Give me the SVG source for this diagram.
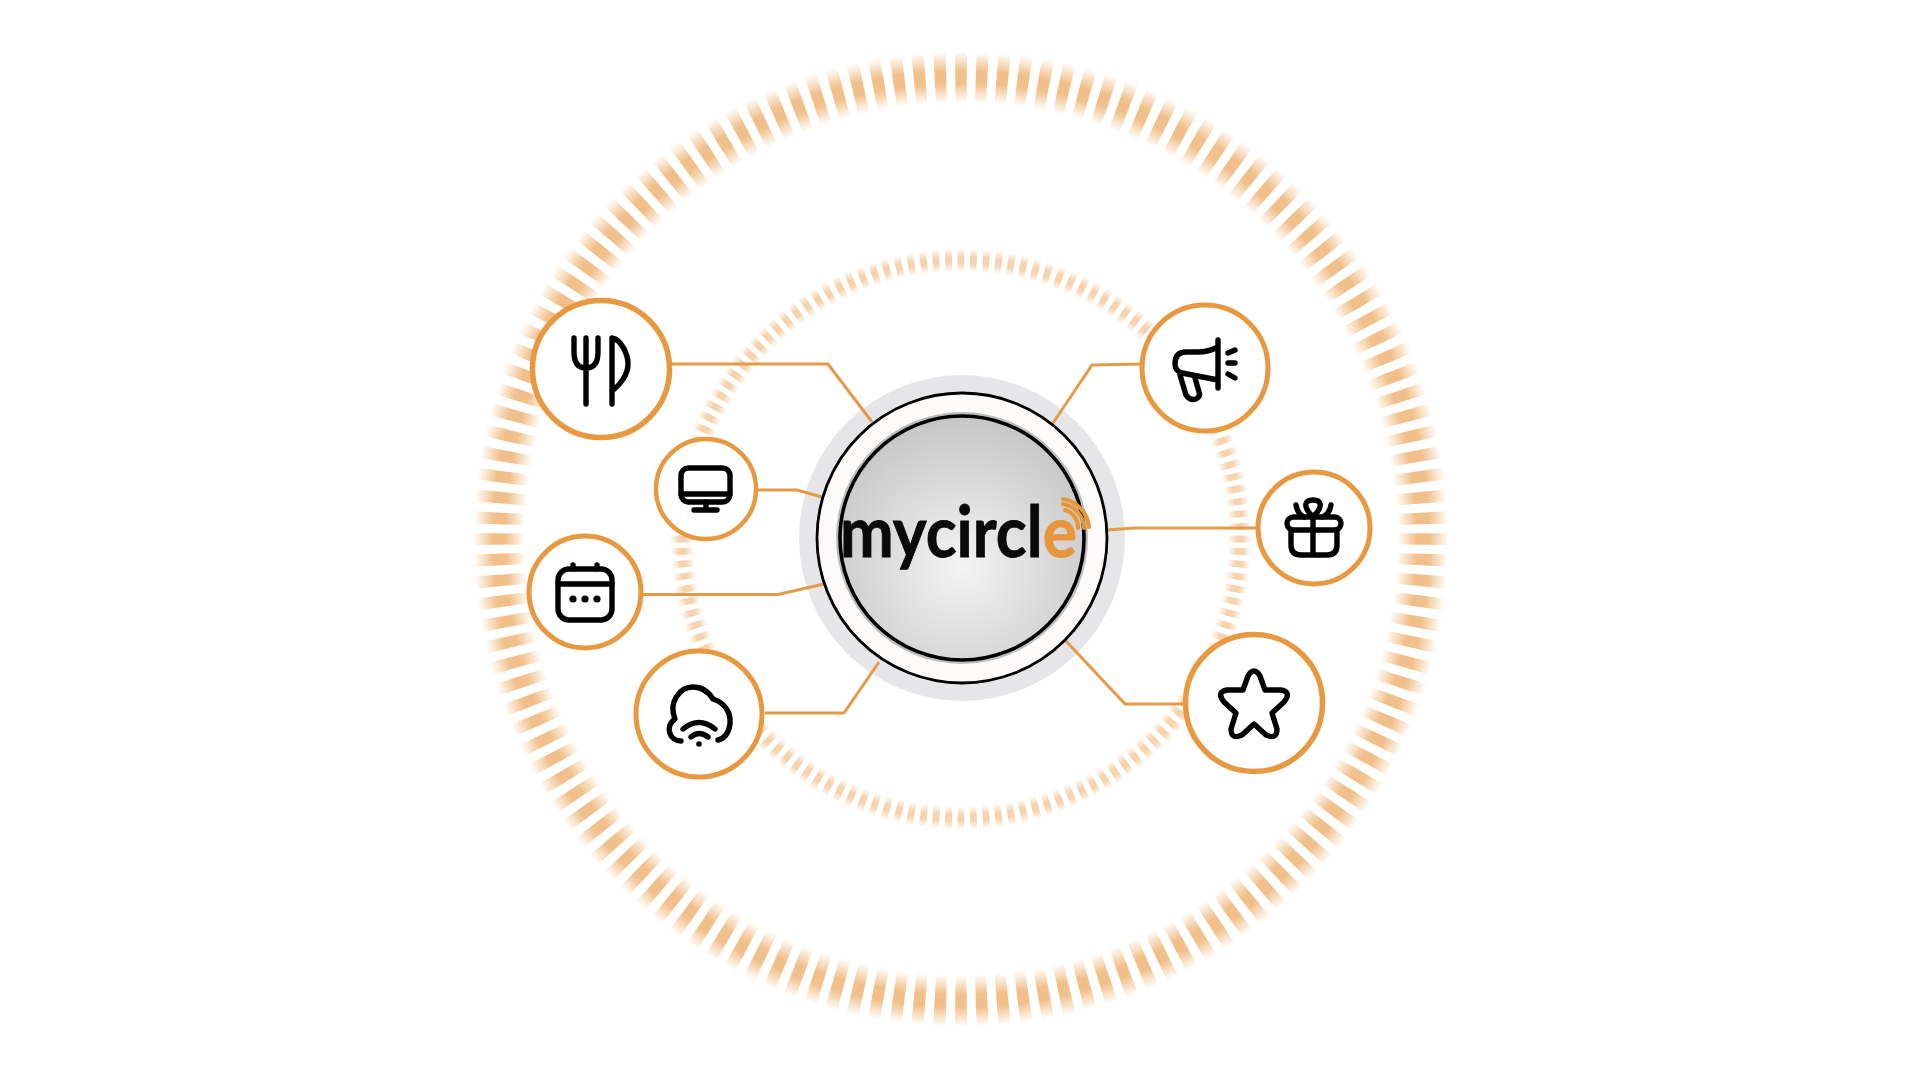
<svg xmlns="http://www.w3.org/2000/svg" width="1920" height="1080" viewBox="0 0 1920 1080">
<style>
.node{fill:#fff;stroke:#e8983f}
.ico{fill:none;stroke:#000;stroke-width:5.4;stroke-linecap:round;stroke-linejoin:round}
.wire{fill:none;stroke:#e59a48;stroke-width:3;stroke-linejoin:miter}
.sig{fill:none;stroke:#e8963c;stroke-width:4;stroke-linecap:round}
.logo{font-family:Lato,"Open Sans","Liberation Sans",sans-serif;font-weight:700;font-size:71px;fill:#0a0a0a;stroke:#0a0a0a;stroke-width:.8}
.logo tspan{fill:#e8963c;stroke:#e8963c}
</style>
<defs>
<radialGradient id="g1" gradientUnits="userSpaceOnUse" cx="961" cy="539" r="490">
<stop offset=".89" stop-color="#e8963c" stop-opacity="0"/>
<stop offset=".93" stop-color="#e8963c" stop-opacity=".6"/>
<stop offset=".955" stop-color="#e8963c" stop-opacity=".6"/>
<stop offset=".995" stop-color="#e8963c" stop-opacity="0"/>
</radialGradient>
<radialGradient id="g2" gradientUnits="userSpaceOnUse" cx="961" cy="539" r="292">
<stop offset=".915" stop-color="#e8963c" stop-opacity="0"/>
<stop offset=".945" stop-color="#e8963c" stop-opacity=".42"/>
<stop offset=".965" stop-color="#e8963c" stop-opacity=".42"/>
<stop offset=".995" stop-color="#e8963c" stop-opacity="0"/>
</radialGradient>
<radialGradient id="disc" cx=".5" cy=".62" r=".62">
<stop offset="0" stop-color="#f4f4f4"/>
<stop offset="1" stop-color="#c6c6c6"/>
</radialGradient>
<filter id="soft" x="-5%" y="-5%" width="110%" height="110%"><feGaussianBlur stdDeviation=".6"/></filter>
</defs>
<rect width="1920" height="1080" fill="#fff"/>
<g id="rings" filter="url(#soft)">
<circle cx="961" cy="539" r="462" fill="none" stroke="url(#g1)" stroke-width="52" pathLength="140" stroke-dasharray=".56 .44" stroke-dashoffset=".28" transform="rotate(-90 961 539)"/>
<circle cx="961" cy="539" r="278" fill="none" stroke="url(#g2)" stroke-width="24" pathLength="140" stroke-dasharray=".54 .46" stroke-dashoffset=".27" transform="rotate(-90 961 539)"/>
</g>
<g id="hub-halo"><circle cx="962" cy="538" r="163" fill="#e6e6e8"/></g>
<g id="connectors">
<path class="wire" d="M672 364H828L872 422"/>
<path class="wire" d="M757 490H797L822 497"/>
<path class="wire" d="M643 594.5H778L824 584"/>
<path class="wire" d="M765 713H844L879 662"/>
<path class="wire" d="M1142 364L1092 365L1053 423"/>
<path class="wire" d="M1256 528H1135L1106 530"/>
<path class="wire" d="M1183 704H1125L1066 641"/>
</g>
<g id="hub">
<circle cx="962" cy="538" r="145" fill="#fdfbf9" stroke="#000" stroke-width="2.8"/>
<circle cx="962" cy="538" r="126" fill="#bdbdbd"/>
<circle cx="962" cy="538" r="122" fill="url(#disc)" stroke="#000" stroke-width="3.6"/>
<text class="logo" x="840" y="557" textLength="237" lengthAdjust="spacingAndGlyphs">mycircl<tspan>e</tspan></text>
<path class="sig" d="M1065 510A18 18 0 0 1 1078 528"/>
<path class="sig" d="M1063 504A25 25 0 0 1 1084 528"/>
<path class="sig" d="M1063 499A31 31 0 0 1 1089 527"/>
</g>
<g id="node-dining">
<circle class="node" cx="601" cy="369" r="68.5" stroke-width="5.5"/>
<path class="ico" d="M574 338V352Q574 368 586 368Q598 368 598 352V338M586 338V404"/>
<path class="ico" d="M612 404V338C622 340 628 355 628 364C628 375 620 385 612 391"/>
</g>
<g id="node-screen">
<circle class="node" cx="706" cy="489" r="50" stroke-width="4.4"/>
<rect class="ico" x="681" y="468" width="49" height="34" rx="7.5" stroke-width="4.4"/>
<path class="ico" d="M681 494H730M706 502V510M694 510H717" stroke-width="4.4"/>
</g>
<g id="node-calendar">
<circle class="node" cx="585" cy="592" r="56" stroke-width="5"/>
<rect class="ico" x="558" y="569" width="54" height="51" rx="11" stroke-width="4.8"/>
<path class="ico" d="M558 584H612M573 565V569M597 565V569" stroke-width="4.8"/>
<circle cx="573" cy="599" r="3.6"/><circle cx="585" cy="599" r="3.6"/><circle cx="597" cy="599" r="3.6"/>
</g>
<g id="node-wifi">
<circle class="node" cx="699" cy="714" r="63" stroke-width="5"/>
<path class="ico" d="M681 741C670 741 664 727 675 719C668 702 680 687 693 687C702 687 708 691 713 699C726 703 731 714 730 724C729 733 724 739 718 740"/>
<path class="ico" d="M683 729Q699 716 715 729M691 737Q699 730 708 737"/>
<circle cx="699" cy="744" r="2.8"/>
</g>
<g id="node-megaphone">
<circle class="node" cx="1205" cy="368" r="63" stroke-width="5"/>
<path class="ico" d="M1218 340V388M1218 347Q1208 352 1198 352H1186Q1175 352 1175 364Q1175 371 1182 373L1218 380"/>
<path class="ico" d="M1180 375L1186 395Q1190 401 1196 399Q1201 396 1199 392L1195 378"/>
<path class="ico" d="M1228 353L1235 350M1228 363H1235M1228 374L1235 378" stroke-width="4"/>
</g>
<g id="node-gift">
<circle class="node" cx="1314" cy="528" r="56" stroke-width="5"/>
<rect class="ico" x="1287" y="517" width="54" height="13" rx="6.5"/>
<path class="ico" d="M1291 530V545Q1291 555 1301 555H1327Q1337 555 1337 545V530M1313 517V555"/>
<path class="ico" d="M1313 517C1301 505 1306 500 1313 500C1320 500 1325 505 1313 517M1296 505C1297 511 1300 515 1304 517M1331 505C1330 511 1327 515 1323 517" stroke-width="4.4"/>
</g>
<g id="node-star">
<circle class="node" cx="1254" cy="703" r="68.5" stroke-width="5.5"/>
<path class="ico" stroke-width="6" d="M1243 690L1248 676Q1254 666 1260 676L1265 690L1281 690Q1292 692 1284 702L1272 713L1277 729Q1277 740 1266 735L1254 724L1242 735Q1231 740 1231 729L1236 713L1224 702Q1216 692 1227 690Z"/>
</g>
</svg>
